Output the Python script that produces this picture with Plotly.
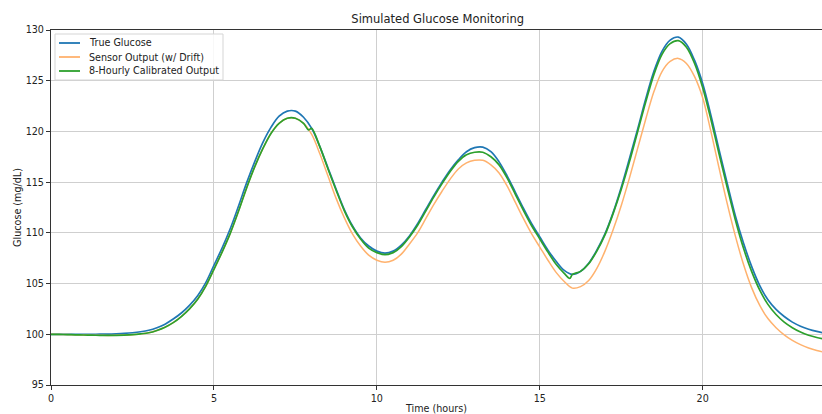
import plotly.graph_objects as go

# ---- data ----
t_grid = [i * 0.25 for i in range(96)]  # 0 .. 23.75 h

true_glucose = [
    100.0, 100.0, 100.0, 100.0, 100.0, 100.0, 100.01, 100.02,            # 0 - 1.75
    100.05, 100.09, 100.15, 100.25, 100.4, 100.65, 101.0, 101.5,          # 2 - 3.75
    102.1, 102.85, 103.8, 105.1, 106.8, 108.5, 110.4, 112.6,              # 4 - 5.75
    114.9, 117.0, 118.9, 120.4, 121.5, 122.0, 122.0, 121.4,               # 6 - 7.75
    120.3, 118.5, 116.4, 114.3, 112.3, 110.7, 109.5, 108.7,               # 8 - 9.75
    108.2, 108.0, 108.2, 108.8, 109.7, 110.9, 112.3, 113.7,               # 10 - 11.75
    115.0, 116.2, 117.2, 118.0, 118.4, 118.45, 118.0, 117.0,              # 12 - 13.75
    115.6, 114.0, 112.4, 110.9, 109.6, 108.3, 107.2, 106.3,               # 14 - 15.75
    105.9, 106.2, 107.0, 108.3, 109.9, 112.0, 114.5, 117.3,               # 16 - 17.75
    120.2, 123.2, 125.9, 127.9, 129.0, 129.3, 128.6, 127.0,               # 18 - 19.75
    124.7, 121.6, 118.2, 114.9, 111.7, 109.0, 106.7, 104.8,               # 20 - 21.75
    103.4, 102.45, 101.75, 101.2, 100.8, 100.5, 100.28, 100.12,           # 22 - 23.75
]

sensor_output = [
    100.0, 99.99, 99.97, 99.95, 99.93, 99.91, 99.9, 99.89,
    99.9, 99.92, 99.96, 100.04, 100.15, 100.38, 100.7, 101.15,
    101.75, 102.5, 103.45, 104.75, 106.4, 108.1, 109.95, 112.1,
    114.4, 116.5, 118.3, 119.8, 120.8, 121.3, 121.3, 120.8,
    119.7, 117.8, 115.6, 113.4, 111.5, 109.9, 108.7, 107.8,
    107.3, 107.1, 107.3, 107.9, 108.9, 110.0, 111.4, 112.8,
    114.1, 115.3, 116.3, 116.9, 117.15, 117.15, 116.7, 115.9,
    114.6, 113.0, 111.4, 109.9, 108.6, 107.3, 106.1, 105.2,
    104.55, 104.7, 105.3, 106.5, 108.2, 110.3, 112.7, 115.4,
    118.3, 121.2, 123.9, 125.9, 126.9, 127.2, 126.7, 125.4,
    123.3, 120.0, 116.4, 112.9, 109.7, 106.9, 104.6, 102.85,
    101.55, 100.65, 99.95, 99.4, 98.98, 98.65, 98.4, 98.22,
]

t_calibrated = ([i * 0.25 for i in range(32)] + [7.9]
                + [8.0 + i * 0.25 for i in range(32)] + [15.92]
                + [16.0 + i * 0.25 for i in range(32)])
calibrated_output = [
    # 0 - 7.75 (sensor since start)
    100.0, 99.99, 99.97, 99.95, 99.93, 99.91, 99.9, 99.89,
    99.9, 99.92, 99.96, 100.04, 100.15, 100.38, 100.7, 101.15,
    101.75, 102.5, 103.45, 104.75, 106.4, 108.1, 109.95, 112.1,
    114.4, 116.5, 118.3, 119.8, 120.8, 121.3, 121.3, 120.8,
    120.15,                                                              # 7.9
    # 8 - 15.75 (recalibrated at 8 h)
    120.3, 118.5, 116.3, 114.2, 112.2, 110.6, 109.4, 108.5,
    108.05, 107.85, 108.05, 108.65, 109.6, 110.75, 112.15, 113.55,
    114.85, 116.05, 117.05, 117.7, 117.95, 117.95, 117.5, 116.7,
    115.4, 113.8, 112.2, 110.7, 109.4, 108.1, 106.9, 106.0,
    105.5,                                                               # 15.92
    # 16 - 23.75 (recalibrated at 16 h)
    105.9, 106.2, 106.95, 108.2, 109.8, 111.9, 114.3, 117.0,
    119.95, 122.9, 125.6, 127.6, 128.65, 128.95, 128.3, 126.7,
    124.3, 121.2, 117.8, 114.5, 111.3, 108.5, 106.2, 104.35,
    102.95, 101.95, 101.2, 100.65, 100.22, 99.9, 99.68, 99.52,
]

series_names = ["True Glucose", "Sensor Output (w/ Drift)", "8-Hourly Calibrated Output"]
series_colors = ["#1f77b4", "#ffb26e", "#2ca02c"]
x_ticks = [0, 5, 10, 15, 20]
y_ticks = [95, 100, 105, 110, 115, 120, 125, 130]

FONT = "DejaVu Sans"
AX = "#333333"
GRID = "#cfcfcf"
W, H = 822, 414
ML, MR, MT, MB = 51, 0, 30, 29
PW, PH = W - ML - MR, H - MT - MB


def px_x(x):
    return (x - ML) / PW


def px_y(y):
    return (H - MB - y) / PH


fig = go.Figure()
fig.add_trace(go.Scatter(x=t_grid, y=true_glucose, mode="lines", name=series_names[0],
                         line=dict(color=series_colors[0], width=1.7, shape="spline", smoothing=1.0)))
fig.add_trace(go.Scatter(x=t_grid, y=sensor_output, mode="lines", name=series_names[1],
                         line=dict(color=series_colors[1], width=1.5, shape="spline", smoothing=1.0)))
fig.add_trace(go.Scatter(x=t_calibrated, y=calibrated_output, mode="lines", name=series_names[2],
                         line=dict(color=series_colors[2], width=1.7, shape="spline", smoothing=0.8)))

# legend drawn manually to match matplotlib spacing
shapes = [dict(type="rect", xref="paper", yref="paper",
               x0=px_x(55), x1=px_x(223), y0=px_y(80), y1=px_y(34),
               line=dict(color="#d5d5d5", width=1), fillcolor="rgba(255,255,255,0.85)", layer="above")]
annotations = []
for i, (nm, col) in enumerate(zip(series_names, series_colors)):
    yy = 43 + i * 14
    shapes.append(dict(type="line", xref="paper", yref="paper",
                       x0=px_x(59), x1=px_x(80), y0=px_y(yy), y1=px_y(yy),
                       line=dict(color=col, width=1.8), layer="above"))
    annotations.append(dict(text=nm, xref="paper", yref="paper", x=px_x(87), y=px_y(yy),
                            xanchor="left", yanchor="middle", showarrow=False,
                            font=dict(size=9.6, family=FONT, color="#222222")))

fig.update_layout(
    width=W, height=H,
    margin=dict(l=ML, r=MR, t=MT, b=MB),
    paper_bgcolor="white", plot_bgcolor="white",
    font=dict(family=FONT, size=9.6, color="#222222"),
    title=dict(text="Simulated Glucose Monitoring", x=0.5325, xanchor="center",
               y=1 - 19 / H, yanchor="middle", font=dict(size=11.5, family=FONT, color="#222222")),
    showlegend=False,
    shapes=shapes,
    annotations=annotations,
)
fig.update_xaxes(
    range=[0, 23.66], tickvals=x_ticks, ticktext=[str(v) for v in x_ticks],
    showgrid=True, gridcolor=GRID, gridwidth=1, zeroline=False,
    showline=True, linecolor=AX, linewidth=1.2, mirror=True,
    ticks="outside", ticklen=4, tickcolor=AX, tickwidth=1,
    title=dict(text="Time (hours)", standoff=3, font=dict(size=9.6, family=FONT)),
    automargin=False,
)
fig.update_yaxes(
    range=[95, 130], tickvals=y_ticks, ticktext=[str(v) for v in y_ticks],
    showgrid=True, gridcolor=GRID, gridwidth=1, zeroline=False,
    showline=True, linecolor=AX, linewidth=1.2, mirror=False,
    ticks="outside", ticklen=4, tickcolor=AX, tickwidth=1,
    title=dict(text="Glucose (mg/dL)", standoff=2, font=dict(size=9.6, family=FONT)),
    automargin=False,
)

fig.write_html("out.html")
